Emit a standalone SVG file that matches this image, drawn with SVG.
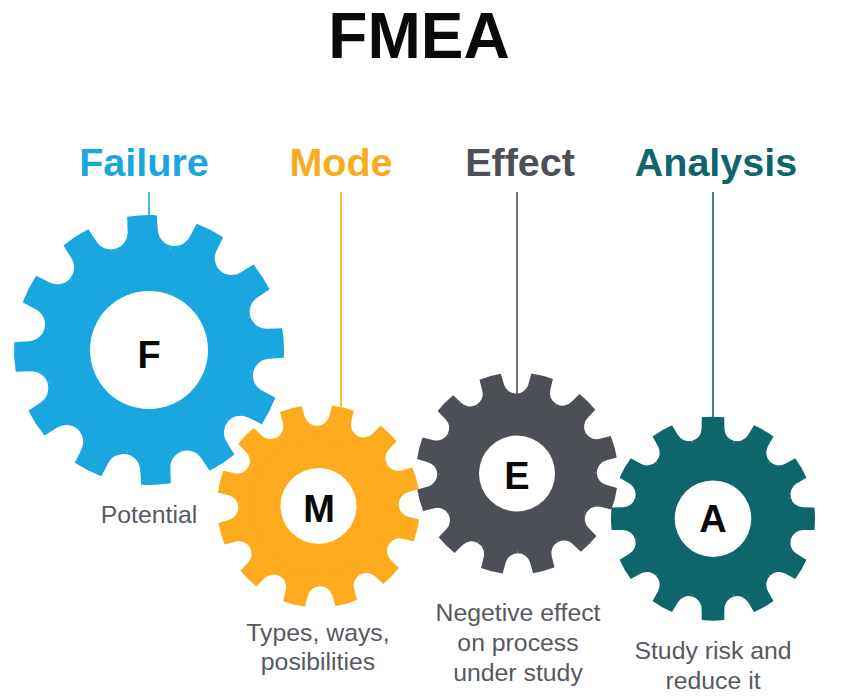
<svg xmlns="http://www.w3.org/2000/svg" width="841" height="698" viewBox="0 0 841 698">
<style>
text{font-family:"Liberation Sans",Arial,sans-serif}
.title{font-size:64px;font-weight:700;fill:#0a0a0a;text-anchor:middle}
.head{font-size:39.5px;font-weight:700;text-anchor:middle}
.letter{font-weight:700;fill:#0a0a0a;text-anchor:middle}
.note{font-size:24.8px;fill:#58595f;text-anchor:middle}
.conn{fill:none;stroke-width:1.6}
</style>
<defs>
<path id="tooth" d="M-11-99.4A100 100 0 0 1 11-99.4L11.2-88.2A12.5 12.5 0 0 0 20.45-76.3L17.6-65.7L-17.6-65.7L-20.45-76.3A12.5 12.5 0 0 0-11.2-88.2Z"/>
<g id="gear">
<circle r="76"/>
<use href="#tooth"/><use href="#tooth" transform="rotate(30)"/><use href="#tooth" transform="rotate(60)"/><use href="#tooth" transform="rotate(90)"/><use href="#tooth" transform="rotate(120)"/><use href="#tooth" transform="rotate(150)"/><use href="#tooth" transform="rotate(180)"/><use href="#tooth" transform="rotate(210)"/><use href="#tooth" transform="rotate(240)"/><use href="#tooth" transform="rotate(270)"/><use href="#tooth" transform="rotate(300)"/><use href="#tooth" transform="rotate(330)"/>
</g>
</defs>
<rect width="841" height="698" fill="#fff"/>
<text class="title" x="419" y="58">FMEA</text>
<g id="connectors">
<line class="conn" x1="149" y1="192" x2="149" y2="217" stroke="#1aa6df"/>
<line class="conn" x1="341" y1="192" x2="341" y2="407" stroke="#fbab1c"/>
<line class="conn" x1="517" y1="192" x2="517" y2="396" stroke="#4d4f57"/>
<line class="conn" x1="713" y1="192" x2="713" y2="419" stroke="#0e666b"/>
</g>
<g id="node-failure">
<text class="head" x="144" y="176" fill="#1aa6df">Failure</text>
<use href="#gear" fill="#1aa6df" transform="translate(149 350) rotate(-3) scale(1.35)"/>
<circle cx="149" cy="350" r="59" fill="#fff"/>
<text class="letter" x="149" y="368" font-size="38">F</text>
<text class="note" x="149" y="523">Potential</text>
</g>
<g id="node-mode">
<text class="head" x="341" y="176" fill="#fbab1c">Mode</text>
<use href="#gear" fill="#fbab1c" transform="translate(318.5 506) rotate(14) scale(1.015)"/>
<circle cx="318.5" cy="506" r="38" fill="#fff"/>
<text class="letter" x="319" y="522" font-size="38">M</text>
<text class="note" x="318" y="641">Types, ways,</text>
<text class="note" x="318" y="670">posibilities</text>
</g>
<g id="node-effect">
<text class="head" x="520" y="176" fill="#4d4f57">Effect</text>
<use href="#gear" fill="#4d4f57" transform="translate(517 473.5) rotate(14.5) scale(1.01)"/>
<circle cx="517" cy="473.5" r="38" fill="#fff"/>
<text class="letter" x="517" y="489" font-size="38">E</text>
<text class="note" x="518" y="621">Negetive effect</text>
<text class="note" x="518" y="651">on process</text>
<text class="note" x="518" y="681">under study</text>
</g>
<g id="node-analysis">
<text class="head" x="716" y="176" fill="#0e666b">Analysis</text>
<use href="#gear" fill="#0e666b" transform="translate(713 518.7) scale(1.02)"/>
<circle cx="713" cy="518.7" r="38.3" fill="#fff"/>
<text class="letter" x="713" y="532" font-size="38">A</text>
<text class="note" x="713" y="659">Study risk and</text>
<text class="note" x="713" y="689">reduce it</text>
</g>
</svg>
